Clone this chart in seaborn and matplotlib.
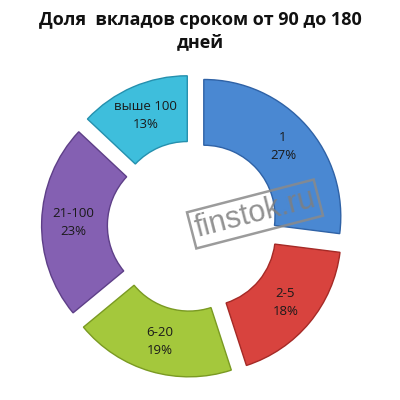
import matplotlib
matplotlib.use("Agg")
import matplotlib.pyplot as plt
import seaborn as sns

sns.set_theme(style="white")
plt.rcParams['font.family'] = ['Open Sans', 'DejaVu Sans']

# Data
categories = ["1", "2-5", "6-20", "21-100", "выше 100"]
shares = [27, 18, 19, 23, 13]
title = "Доля  вкладов сроком от 90 до 180\nдней"
watermark = "finstok.ru"

colors = ["#4A88D2", "#D8433E", "#A4C83C", "#8460B2", "#3EBEDC"]
edges = ["#2F62A6", "#A52A26", "#7A9A22", "#5E3F88", "#2590AE"]

fig = plt.figure(figsize=(4, 4), dpi=100)
fig.patch.set_facecolor("white")

R_px = 137.0
cx, cy = 193.0, 226.0
h = 1.45
w_frac = 2 * h * R_px / 400
ax = fig.add_axes([(cx - h * R_px) / 400, (400 - cy - h * R_px) / 400, w_frac, w_frac])

labels = [f"{c}\n{s}%" for c, s in zip(categories, shares)]
wedges, texts = ax.pie(
    shares,
    labels=labels,
    colors=colors,
    startangle=90,
    counterclock=False,
    explode=[0.105] * len(shares),
    labeldistance=0.77,
    wedgeprops=dict(width=0.48, linewidth=1.0),
    textprops=dict(fontsize=9.5, color="#1a1a1a", linespacing=1.5),
)
for wdg, ec in zip(wedges, edges):
    wdg.set_edgecolor(ec)
for t in texts:
    t.set_horizontalalignment("center")
    t.set_verticalalignment("center")

ax.set_xlim(-h, h)
ax.set_ylim(-h, h)
ax.set_aspect("equal")
ax.axis("off")

wx = (255 - cx) / R_px
wy = (cy - 214) / R_px
ax.text(wx, wy, watermark, fontsize=22, color="#7f7f7f", alpha=0.85,
        family=["Liberation Sans", "DejaVu Sans"], rotation=14.5,
        ha="center", va="center", rotation_mode="anchor",
        bbox=dict(boxstyle="square,pad=0.12", facecolor="none", edgecolor="#8a8a8a", linewidth=1.8, alpha=0.85))

fig.text(0.5, 1 - 31 / 400, title, ha="center", va="center", fontsize=13,
         fontweight="bold", color="#111111", linespacing=1.35)

fig.savefig("out.png", dpi=100, facecolor="white")
